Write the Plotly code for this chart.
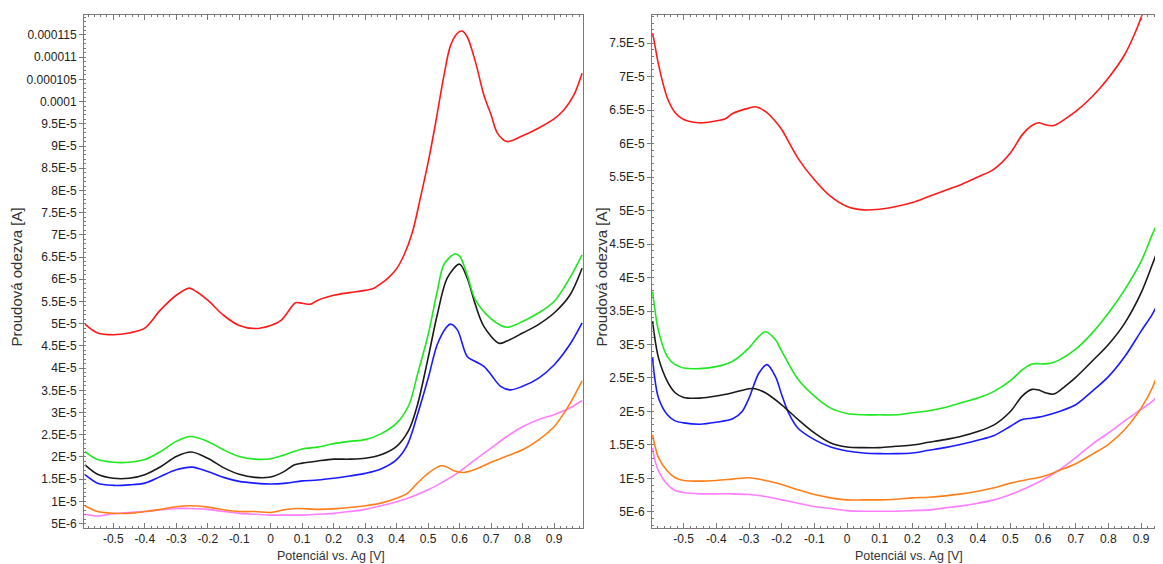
import plotly.graph_objects as go

# ---------------- data (current in 1e-6 A, potential in V) ----------------
# Left panel
L_red_x = [-0.59, -0.55, -0.5, -0.45, -0.4, -0.35, -0.3, -0.258, -0.25, -0.2, -0.15, -0.1, -0.05, 0, 0.032, 0.05, 0.079, 0.1, 0.127, 0.15, 0.2, 0.25, 0.3, 0.328, 0.35, 0.376, 0.4, 0.423, 0.45, 0.476, 0.5, 0.524, 0.55, 0.571, 0.593, 0.608, 0.624, 0.65, 0.677, 0.7, 0.72, 0.75, 0.8, 0.85, 0.9, 0.931, 0.963, 0.989]
L_red_y = [49.9, 47.9, 47.5, 47.9, 49.0, 53.1, 56.4, 58.0, 57.8, 55.3, 51.9, 49.6, 48.9, 49.6, 50.7, 52.2, 54.7, 54.6, 54.4, 55.3, 56.4, 57.0, 57.5, 58.0, 59.0, 60.5, 62.4, 65.4, 70.6, 78.5, 86.3, 95.3, 105.8, 112.6, 115.4, 115.9, 114.6, 109.0, 101.5, 97.0, 92.9, 91.0, 92.3, 94.0, 96.1, 98.1, 101.5, 106.4]

L_green_x = [-0.59, -0.55, -0.5, -0.45, -0.4, -0.35, -0.3, -0.254, -0.2, -0.15, -0.1, -0.05, 0, 0.05, 0.1, 0.15, 0.2, 0.25, 0.3, 0.35, 0.4, 0.439, 0.466, 0.5, 0.529, 0.55, 0.584, 0.6, 0.624, 0.65, 0.7, 0.75, 0.8, 0.85, 0.9, 0.95, 0.989]
L_green_y = [21.2, 19.4, 18.8, 18.8, 19.4, 21.2, 23.5, 24.6, 23.5, 21.6, 20.1, 19.5, 19.6, 20.6, 21.8, 22.2, 23.0, 23.5, 23.9, 25.2, 27.6, 31.7, 38.5, 47.5, 57.3, 63.3, 65.7, 65.2, 61.0, 55.4, 51.1, 49.2, 50.5, 52.4, 55.0, 60.3, 65.5]

L_black_x = [-0.59, -0.55, -0.5, -0.45, -0.4, -0.35, -0.3, -0.252, -0.2, -0.15, -0.1, -0.05, 0, 0.042, 0.074, 0.1, 0.15, 0.2, 0.25, 0.3, 0.35, 0.4, 0.439, 0.466, 0.5, 0.529, 0.561, 0.6, 0.624, 0.65, 0.677, 0.725, 0.75, 0.8, 0.85, 0.9, 0.95, 0.989]
L_black_y = [18.2, 16.1, 15.2, 15.2, 16.0, 17.8, 20.1, 21.1, 19.7, 17.6, 16.1, 15.4, 15.5, 16.7, 18.2, 18.6, 19.1, 19.5, 19.5, 19.7, 20.5, 22.4, 26.1, 31.7, 42.3, 52.0, 60.3, 63.4, 60.3, 54.3, 49.4, 45.6, 46.1, 47.9, 49.8, 52.4, 56.4, 62.5]

L_blue_x = [-0.59, -0.55, -0.5, -0.45, -0.4, -0.35, -0.3, -0.249, -0.2, -0.15, -0.1, -0.05, 0, 0.05, 0.1, 0.15, 0.2, 0.25, 0.3, 0.35, 0.4, 0.434, 0.466, 0.5, 0.529, 0.556, 0.571, 0.593, 0.624, 0.65, 0.677, 0.7, 0.73, 0.762, 0.8, 0.85, 0.9, 0.95, 0.989]
L_blue_y = [16.0, 14.1, 13.6, 13.7, 14.1, 15.6, 17.1, 17.7, 16.7, 15.4, 14.5, 14.1, 13.9, 14.1, 14.6, 14.8, 15.2, 15.7, 16.3, 17.3, 19.4, 22.7, 29.5, 37.7, 45.3, 49.0, 49.9, 48.6, 42.6, 41.5, 40.4, 38.5, 35.9, 35.1, 35.9, 37.7, 40.7, 45.3, 50.2]

L_orange_x = [-0.59, -0.55, -0.5, -0.45, -0.4, -0.35, -0.3, -0.254, -0.2, -0.15, -0.1, -0.05, 0, 0.042, 0.079, 0.15, 0.2, 0.25, 0.3, 0.35, 0.4, 0.434, 0.466, 0.5, 0.54, 0.561, 0.582, 0.614, 0.65, 0.7, 0.75, 0.8, 0.85, 0.9, 0.931, 0.963, 0.989]
L_orange_y = [9.0, 7.7, 7.3, 7.3, 7.7, 8.2, 8.8, 9.0, 8.7, 8.1, 7.7, 7.7, 7.5, 8.1, 8.4, 8.2, 8.3, 8.6, 9.0, 9.6, 10.7, 11.8, 14.1, 16.3, 18.0, 17.7, 16.9, 16.5, 17.2, 18.8, 20.2, 21.6, 23.8, 26.8, 29.8, 33.6, 37.1]

L_pink_x = [-0.59, -0.55, -0.5, -0.45, -0.4, -0.35, -0.3, -0.254, -0.2, -0.15, -0.1, -0.05, 0, 0.05, 0.1, 0.15, 0.2, 0.25, 0.3, 0.35, 0.4, 0.45, 0.5, 0.55, 0.6, 0.65, 0.7, 0.75, 0.8, 0.85, 0.9, 0.95, 0.989]
L_pink_y = [7.1, 6.7, 7.2, 7.5, 7.7, 8.1, 8.4, 8.4, 8.2, 7.7, 7.3, 7.1, 6.9, 6.9, 6.9, 7.1, 7.3, 7.7, 8.2, 9.0, 9.9, 11.1, 12.6, 14.5, 16.7, 19.4, 22.0, 24.6, 26.8, 28.4, 29.5, 31.0, 32.7]

# Right panel
R_red_x = [-0.595, -0.59, -0.577, -0.55, -0.526, -0.5, -0.45, -0.4, -0.372, -0.35, -0.3, -0.281, -0.25, -0.219, -0.2, -0.15, -0.1, -0.05, 0, 0.05, 0.1, 0.15, 0.2, 0.25, 0.3, 0.35, 0.4, 0.45, 0.5, 0.536, 0.566, 0.587, 0.607, 0.633, 0.668, 0.7, 0.75, 0.8, 0.85, 0.883, 0.903]
R_red_y = [76.5, 75.2, 71.8, 66.8, 64.6, 63.6, 63.1, 63.4, 63.7, 64.5, 65.3, 65.5, 64.8, 63.3, 62.1, 57.8, 54.6, 52.1, 50.6, 50.1, 50.2, 50.6, 51.2, 52.1, 53.0, 53.9, 55.0, 56.2, 58.6, 61.3, 62.7, 63.1, 62.8, 62.7, 63.7, 64.8, 67.0, 69.8, 73.3, 76.7, 79.2]

R_green_x = [-0.595, -0.59, -0.577, -0.55, -0.526, -0.5, -0.45, -0.4, -0.35, -0.3, -0.27, -0.25, -0.219, -0.2, -0.15, -0.1, -0.05, 0, 0.05, 0.1, 0.15, 0.2, 0.25, 0.3, 0.35, 0.4, 0.45, 0.5, 0.536, 0.566, 0.6, 0.623, 0.65, 0.7, 0.75, 0.8, 0.85, 0.9, 0.934, 0.964]
R_green_y = [37.9, 35.9, 32.0, 28.2, 27.0, 26.5, 26.4, 26.7, 27.5, 29.5, 31.2, 31.9, 30.7, 29.0, 24.8, 22.3, 20.5, 19.7, 19.5, 19.5, 19.5, 19.8, 20.1, 20.6, 21.3, 22.0, 23.0, 24.6, 26.2, 27.1, 27.1, 27.2, 27.7, 29.3, 31.7, 34.7, 38.2, 42.4, 46.4, 49.6]

R_black_x = [-0.595, -0.59, -0.577, -0.55, -0.526, -0.5, -0.45, -0.4, -0.35, -0.3, -0.281, -0.25, -0.2, -0.15, -0.1, -0.05, 0, 0.05, 0.1, 0.15, 0.2, 0.25, 0.3, 0.35, 0.4, 0.45, 0.5, 0.536, 0.566, 0.587, 0.607, 0.633, 0.668, 0.7, 0.75, 0.8, 0.85, 0.9, 0.934, 0.964]
R_black_y = [33.5, 31.5, 28.0, 24.5, 22.8, 22.1, 22.0, 22.3, 22.8, 23.4, 23.4, 22.8, 21.0, 18.8, 16.8, 15.3, 14.7, 14.6, 14.6, 14.8, 15.0, 15.4, 15.8, 16.3, 17.0, 18.0, 20.0, 22.3, 23.3, 23.2, 22.8, 22.6, 23.8, 25.1, 27.5, 30.0, 33.2, 37.7, 41.9, 45.9]

R_blue_x = [-0.595, -0.59, -0.577, -0.55, -0.526, -0.5, -0.45, -0.4, -0.35, -0.321, -0.3, -0.27, -0.245, -0.219, -0.2, -0.179, -0.15, -0.1, -0.05, 0, 0.05, 0.1, 0.15, 0.2, 0.25, 0.3, 0.35, 0.4, 0.45, 0.5, 0.536, 0.566, 0.6, 0.65, 0.7, 0.75, 0.8, 0.85, 0.9, 0.934, 0.964]
R_blue_y = [28.0, 25.5, 22.0, 19.5, 18.6, 18.3, 18.1, 18.4, 18.9, 20.0, 22.0, 25.7, 27.0, 25.2, 22.5, 19.8, 17.5, 15.8, 14.7, 14.1, 13.8, 13.7, 13.7, 13.8, 14.2, 14.6, 15.1, 15.7, 16.4, 17.8, 18.8, 19.0, 19.3, 20.0, 21.0, 23.0, 25.2, 28.2, 32.0, 34.5, 37.4]

R_low_x = [-0.595, -0.59, -0.577, -0.55, -0.526, -0.5, -0.45, -0.4, -0.35, -0.3, -0.25, -0.2, -0.15, -0.1, -0.05, 0, 0.05, 0.1, 0.15, 0.2, 0.25, 0.3, 0.35, 0.4, 0.45, 0.5, 0.55, 0.6, 0.65, 0.7, 0.75, 0.8, 0.85, 0.9, 0.934, 0.964]
R_orange_y = [16.5, 15.3, 13.1, 11.1, 10.1, 9.7, 9.6, 9.7, 9.9, 10.1, 9.7, 9.1, 8.3, 7.6, 7.1, 6.8, 6.8, 6.8, 6.9, 7.1, 7.2, 7.4, 7.7, 8.1, 8.6, 9.3, 9.8, 10.3, 11.2, 12.2, 13.6, 15.1, 17.3, 20.5, 23.5, 27.5]
R_pink_y = [14.6, 13.1, 11.1, 9.1, 8.2, 7.9, 7.7, 7.7, 7.7, 7.6, 7.3, 6.8, 6.3, 5.8, 5.5, 5.2, 5.1, 5.1, 5.1, 5.2, 5.3, 5.6, 5.9, 6.3, 6.8, 7.6, 8.6, 9.8, 11.3, 13.1, 15.1, 16.8, 18.6, 20.3, 21.5, 23.0]

# tick labels
x_tickvals = [-0.5, -0.4, -0.3, -0.2, -0.1, 0, 0.1, 0.2, 0.3, 0.4, 0.5, 0.6, 0.7, 0.8, 0.9]
x_ticktext = ["-0.5", "-0.4", "-0.3", "-0.2", "-0.1", "0", "0.1", "0.2", "0.3", "0.4", "0.5", "0.6", "0.7", "0.8", "0.9"]
yL_ticktext = ["5E-6", "1E-5", "1.5E-5", "2E-5", "2.5E-5", "3E-5", "3.5E-5", "4E-5", "4.5E-5", "5E-5",
               "5.5E-5", "6E-5", "6.5E-5", "7E-5", "7.5E-5", "8E-5", "8.5E-5", "9E-5", "9.5E-5", "0.0001",
               "0.000105", "0.00011", "0.000115"]

COL = {"red": "#ff1a1a", "green": "#1ee81e", "black": "#1a1a1a", "blue": "#1a1aff",
       "orange": "#ff7f1a", "pink": "#ff7dff"}

fig = go.Figure()

def add(x, y, color, xa, ya):
    fig.add_trace(go.Scatter(
        x=x, y=[v * 1e-6 for v in y], mode="lines",
        line=dict(color=color, width=1.6, shape="spline", smoothing=0.9),
        xaxis=xa, yaxis=ya, showlegend=False, hoverinfo="skip"))

add(L_pink_x, L_pink_y, COL["pink"], "x", "y")
add(L_orange_x, L_orange_y, COL["orange"], "x", "y")
add(L_blue_x, L_blue_y, COL["blue"], "x", "y")
add(L_black_x, L_black_y, COL["black"], "x", "y")
add(L_green_x, L_green_y, COL["green"], "x", "y")
add(L_red_x, L_red_y, COL["red"], "x", "y")

add(R_low_x, R_pink_y, COL["pink"], "x2", "y2")
add(R_low_x, R_orange_y, COL["orange"], "x2", "y2")
add(R_blue_x, R_blue_y, COL["blue"], "x2", "y2")
add(R_black_x, R_black_y, COL["black"], "x2", "y2")
add(R_green_x, R_green_y, COL["green"], "x2", "y2")
add(R_red_x, R_red_y, COL["red"], "x2", "y2")

AX = "#7a7a7a"
TF = dict(family="Liberation Sans, Arial, sans-serif", size=12, color="#222222")

def xaxis_cfg(domain, rng, anchor):
    return dict(domain=domain, range=rng, anchor=anchor,
                tickmode="array", tickvals=x_tickvals, ticktext=x_ticktext,
                ticks="inside", ticklen=5, tickcolor=AX, tickwidth=1,
                showline=True, linecolor=AX, linewidth=1, mirror="ticks",
                showgrid=False, zeroline=False, tickfont=TF,
                minor=dict(tick0=0, dtick=0.02, ticks="inside", ticklen=2,
                           tickcolor=AX, showgrid=False))

def yaxis_cfg(rng, n, anchor, mirror):
    vals = [(i + 1) * 5e-6 for i in range(n)]
    return dict(range=rng, anchor=anchor,
                tickmode="array", tickvals=vals,
                ticktext=yL_ticktext[:n],
                ticks="outside", ticklen=4, tickcolor=AX, tickwidth=1,
                showline=True, linecolor=AX, linewidth=1, mirror=mirror,
                showgrid=False, zeroline=False, tickfont=TF,
                minor=dict(tick0=0, dtick=1e-6, ticks="inside", ticklen=2,
                           tickcolor=AX, showgrid=False))

# page body adds an 8px offset; figure sized so plot areas land where the reference has them
fig.update_layout(
    width=1155, height=556,
    margin=dict(l=76, r=0, t=7, b=36),
    paper_bgcolor="white", plot_bgcolor="white",
    xaxis=xaxis_cfg([0, 0.4625], [-0.593, 0.992], "y"),
    yaxis=yaxis_cfg([4.0e-6, 119.5e-6], 23, "x", True),
    xaxis2=xaxis_cfg([0.5264, 1.0], [-0.597, 0.967], "y2"),
    yaxis2=yaxis_cfg([2.6e-6, 79.2e-6], 15, "x2", False),
)

TY = dict(family="Liberation Sans, Arial, sans-serif", size=15, color="#333333")
TX = dict(family="Liberation Sans, Arial, sans-serif", size=12.5, color="#333333")
ann = [
    dict(text="Proudová odezva [A]", x=-0.0621, y=0.49, textangle=-90, font=TY),
    dict(text="Proudová odezva [A]", x=0.4800, y=0.49, textangle=-90, font=TY),
    dict(text="Potenciál vs. Ag [V]", x=0.2289, y=-0.0546, textangle=0, font=TX),
    dict(text="Potenciál vs. Ag [V]", x=0.7646, y=-0.0546, textangle=0, font=TX),
]
for a in ann:
    fig.add_annotation(text=a["text"], x=a["x"], y=a["y"], xref="paper", yref="paper",
                       textangle=a["textangle"], showarrow=False, font=a["font"],
                       xanchor="center", yanchor="middle")

fig.write_html("out.html")
